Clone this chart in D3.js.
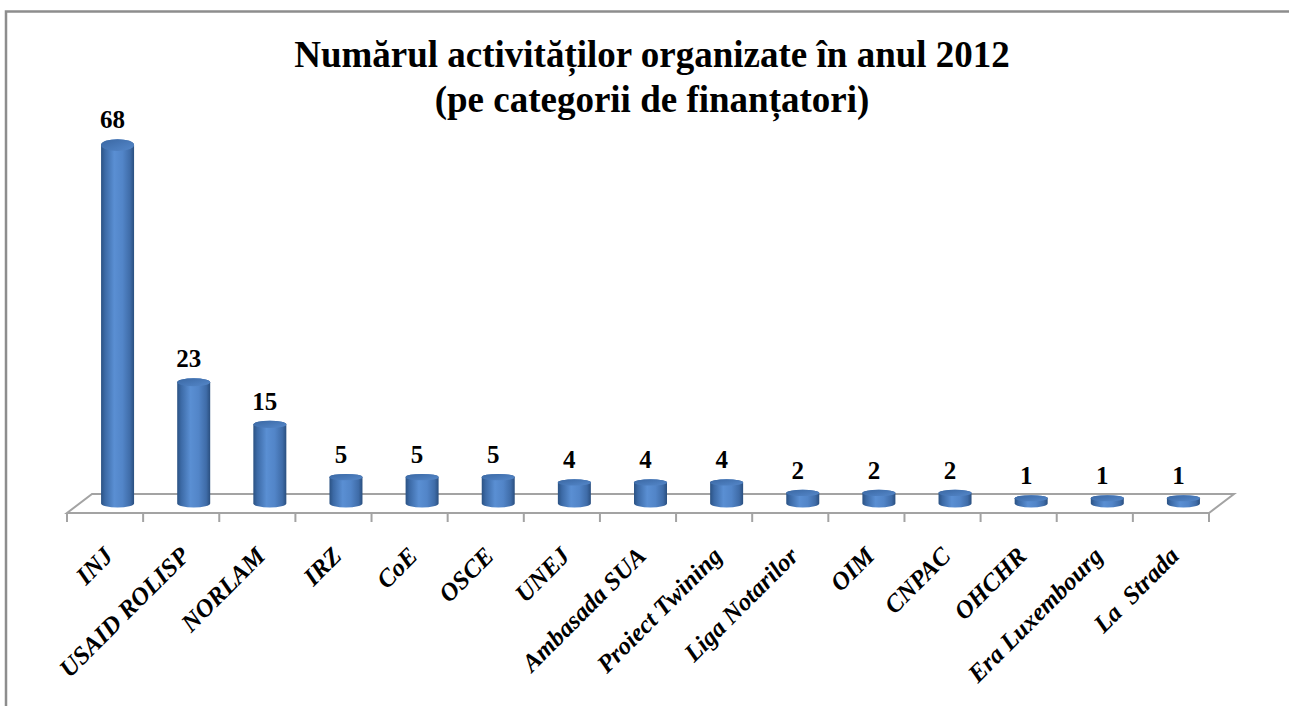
<!DOCTYPE html>
<html>
<head>
<meta charset="utf-8">
<script src="https://cdn.jsdelivr.net/npm/d3@7"></script>
<style>
  html, body { margin: 0; padding: 0; background: #ffffff; }
  svg { display: block; }
</style>
</head>
<body>
<script>
// ---- data ----
const titleLines = ["Numărul activităților organizate în anul 2012", "(pe categorii de finanțatori)"];
const categories = ["INJ", "USAID ROLISP", "NORLAM", "IRZ", "CoE", "OSCE", "UNEJ", "Ambasada SUA",
  "Proiect Twining", "Liga Notarilor", "OIM", "CNPAC", "OHCHR", "Era Luxembourg", "La  Strada"];
const values = [68, 23, 15, 5, 5, 5, 4, 4, 4, 2, 2, 2, 1, 1, 1];

// ---- layout ----
const W = 1289, H = 706;
const floorFront = 513, depthX = 25, depthY = -19;
const svg = d3.select("body").append("svg").attr("width", W).attr("height", H);

const defs = svg.append("defs");
const gBody = defs.append("linearGradient").attr("id", "cylBody").attr("x1", 0).attr("x2", 1).attr("y1", 0).attr("y2", 0);
[[0, "#2b5283"], [0.12, "#3c6aa6"], [0.4, "#5a8fd3"], [0.65, "#5285c8"], [0.88, "#3f6ca8"], [1, "#2a4f7f"]]
  .forEach(([o, c]) => gBody.append("stop").attr("offset", o).attr("stop-color", c));
const gTop = defs.append("linearGradient").attr("id", "cylTop").attr("x1", 0).attr("x2", 1).attr("y1", 0).attr("y2", 1);
[[0, "#3a67a2"], [0.6, "#4a7bbb"], [1, "#5587c8"]]
  .forEach(([o, c]) => gTop.append("stop").attr("offset", o).attr("stop-color", c));

// border
svg.append("path")
  .attr("d", "M6,706 L6,11.5 L1289,11.5")
  .attr("fill", "none").attr("stroke", "#8d8d8d").attr("stroke-width", 2.5);

// title
svg.append("text")
  .attr("x", 652).attr("text-anchor", "middle")
  .style("font-family", "'Liberation Serif', 'Times New Roman', serif")
  .style("font-weight", "bold").style("font-size", "37px").attr("fill", "#000")
  .selectAll("tspan").data(titleLines).join("tspan")
  .attr("x", 652).attr("y", (d, i) => 67 + i * 45).text(d => d);

// scales
const x = d3.scaleBand().domain(categories).range([67, 1209]).padding(0);
const y = d3.scaleLinear().domain([0, 70]).range([floorFront + depthY / 2, floorFront + depthY / 2 - 369]);

// floor
const x0 = x.range()[0], x1 = x.range()[1];
const floor = svg.append("g").attr("fill", "none").attr("stroke", "#a3a3a3").attr("stroke-width", 2);
floor.append("path").attr("d",
  `M${x0},${floorFront} L${x1},${floorFront} L${x1 + depthX},${floorFront + depthY} L${x0 + depthX},${floorFront + depthY} Z`);
const tickPos = categories.map(c => x(c)).concat([x1]);
floor.selectAll("line.tick").data(tickPos).join("line").attr("class", "tick")
  .attr("x1", d => d).attr("x2", d => d).attr("y1", floorFront).attr("y2", floorFront + 9);

// bars (cylinders)
const bw = 33, rx = bw / 2;
const ryAt = yy => 3 + (y(0) - yy) / 369 * 3;
const bars = svg.append("g");
categories.forEach((c, i) => {
  const cx = x(c) + x.bandwidth() / 2 + depthX / 2;
  const yb = y(0), yt = y(values[i]);
  const ryB = 4, ryT = ryAt(yt);
  bars.append("path")
    .attr("d", `M${cx - rx},${yt} L${cx - rx},${yb} A${rx},${ryB} 0 0 0 ${cx + rx},${yb} L${cx + rx},${yt} A${rx},${ryT} 0 0 0 ${cx - rx},${yt} Z`)
    .attr("fill", "url(#cylBody)");
  bars.append("ellipse").attr("cx", cx).attr("cy", yt).attr("rx", rx).attr("ry", ryT)
    .attr("fill", "url(#cylTop)");
  bars.append("text")
    .attr("x", cx - 5).attr("y", yt - ryT - 11).attr("text-anchor", "middle")
    .style("font-family", "'Liberation Serif', 'Times New Roman', serif")
    .style("font-weight", "bold").style("font-size", "25px").attr("fill", "#000")
    .text(values[i]);
});

// category labels
svg.append("g").selectAll("text").data(categories).join("text")
  .attr("transform", d => `translate(${x(d) + x.bandwidth() / 2 + 9.5},557.5) rotate(-45)`)
  .attr("text-anchor", "end")
  .style("font-family", "'Liberation Serif', 'Times New Roman', serif")
  .style("font-weight", "bold").style("font-style", "italic").style("font-size", "25px")
  .style("white-space", "pre").attr("fill", "#000")
  .text(d => d);
</script>
</body>
</html>
